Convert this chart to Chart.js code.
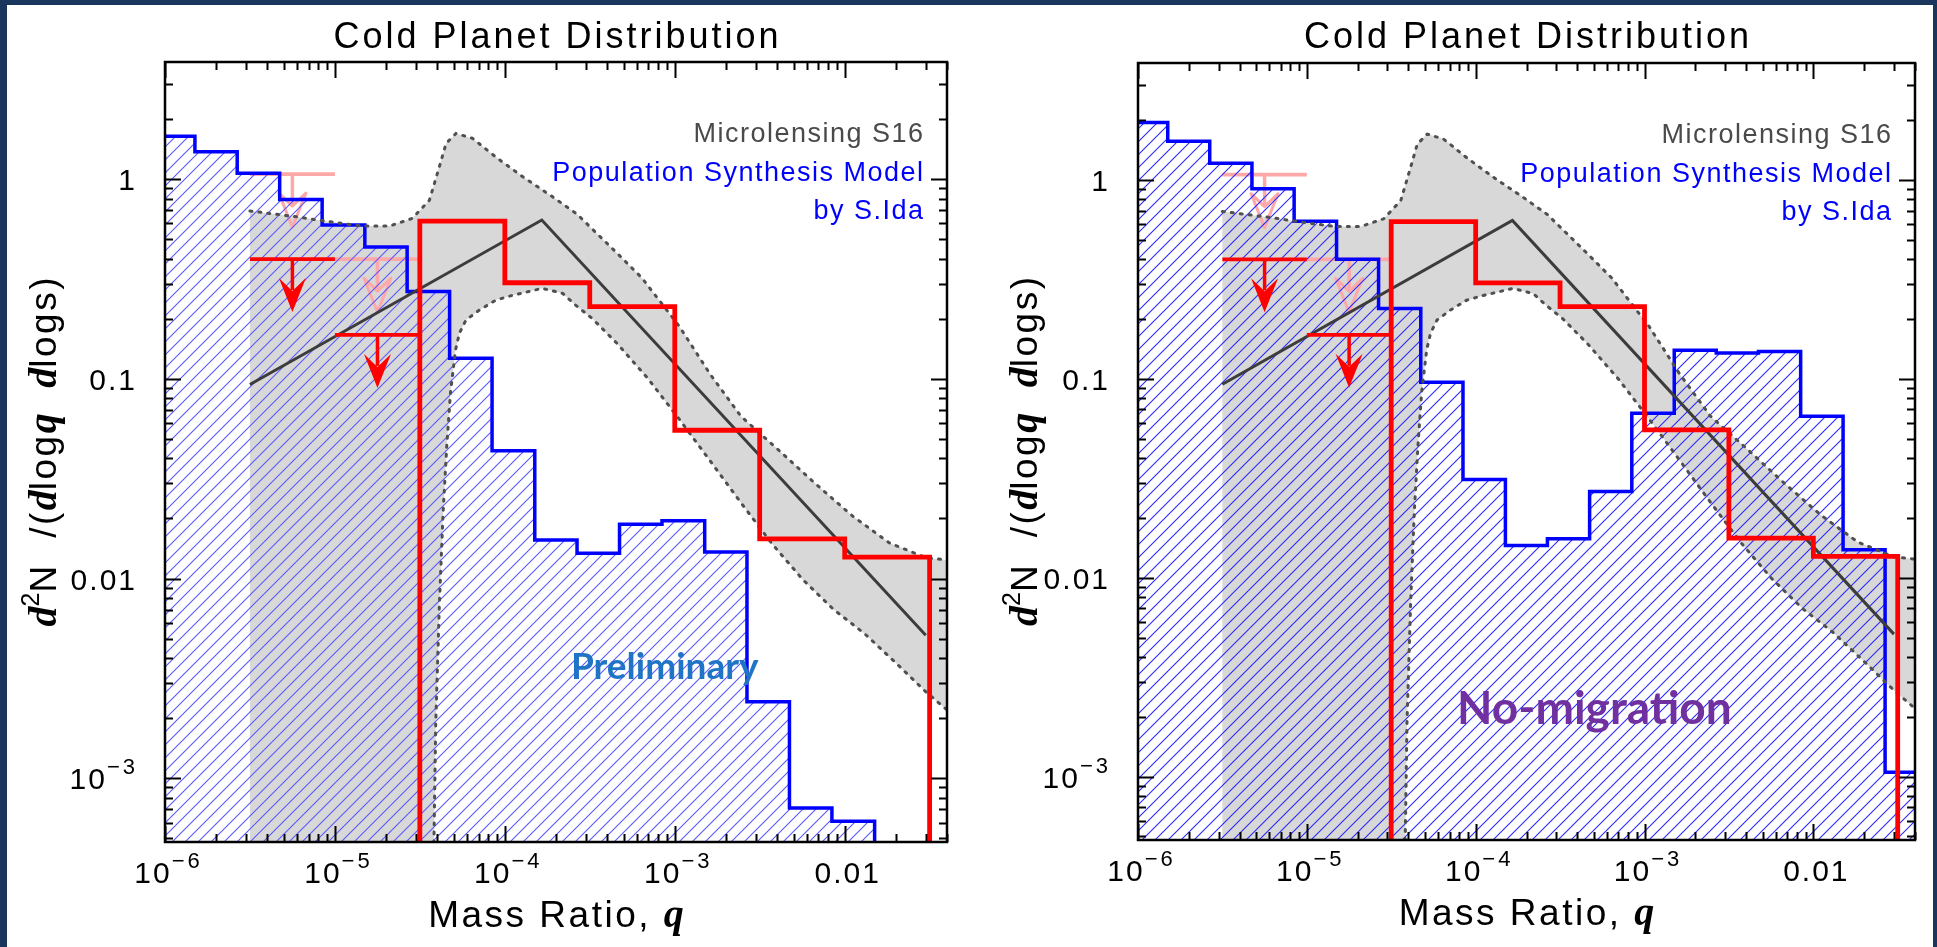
<!DOCTYPE html>
<html>
<head>
<meta charset="utf-8">
<title>Cold Planet Distribution</title>
<script src="https://cdn.jsdelivr.net/npm/chart.js@4.4.1/dist/chart.umd.min.js"></script>
<style>
  html, body { margin: 0; padding: 0; background: #1b365d; }
  #page { position: relative; width: 1937px; height: 947px; overflow: hidden; }
  #sheet { position: absolute; left: 7px; top: 5px; width: 1926px; height: 942px; background: #fff; }
  canvas { position: absolute; top: 0; }
  #left { left: 0; }
  #right { left: 968px; }
</style>
</head>
<body>
<div id="page">
  <div id="sheet"></div>
  <canvas id="left" width="968" height="947"></canvas>
  <canvas id="right" width="969" height="947"></canvas>
</div>
<script>
// axis ranges (mass ratio q, planet frequency)
const qRange = [1e-6, 0.04];
const nRange = [4.8e-4, 3.86];
const belowAxis = 1e-4;

const qTickValues = [1e-6, 1e-5, 1e-4, 1e-3, 0.01];
const qTickText = ['10^−6', '10^−5', '10^−4', '10^−3', '0.01'];
const nTickValues = [1e-3, 0.01, 0.1, 1];
const nTickText = ['10^−3', '0.01', '0.1', '1'];

// population synthesis (S.Ida), 0.25 dex bins: left edges plus last right edge
const synthEdges = [8.4e-7, 1.5e-6, 2.66e-6, 4.73e-6, 8.41e-6, 1.5e-5, 2.66e-5, 4.73e-5, 8.41e-5,
  1.5e-4, 2.66e-4, 4.73e-4, 8.41e-4, 1.5e-3, 2.66e-3, 4.73e-3, 8.41e-3, 1.5e-2, 2.66e-2, 4.73e-2];
const synthPreliminary = [1.64, 1.37, 1.07, 0.79, 0.59, 0.457, 0.274, 0.127, 0.0437, 0.0156,
  0.0134, 0.0187, 0.0195, 0.0136, 0.00242, 7.1e-4, 6.1e-4, null, null];
const synthNoMigration = [1.94, 1.56, 1.21, 0.90, 0.618, 0.398, 0.225, 0.096, 0.0311, 0.0145,
  0.0157, 0.0271, 0.067, 0.139, 0.1345, 0.137, 0.0647, 0.0138, 1.05e-3];

// microlensing S16 histogram, half-decade bins
const s16Edges = [3.16e-5, 1e-4, 3.16e-4, 1e-3, 3.16e-3, 1e-2, 3.16e-2];
const s16Values = [0.616, 0.303, 0.23, 0.0553, 0.0158, 0.0128];

// upper limits for the two lowest bins
const limitBins = [[3.16e-6, 1e-5], [1e-5, 3.16e-5]];
const limitArrowQ = [5.62e-6, 1.78e-5];
const s16Limits = [0.398, 0.166];
const priorLimits = [1.06, 0.398];

// broken power-law fit and its uncertainty band
const fitQ = [3.16e-6, 1.65e-4, 3.0e-2];
const fitN = [0.0937, 0.624, 0.0052];
const bandUpperQ = [3.16e-6, 5.92e-6, 9.33e-6, 1.46e-5, 2.09e-5, 2.85e-5, 3.6e-5, 4.12e-5, 4.51e-5,
  5.16e-5, 6.46e-5, 8.85e-5, 1.27e-4, 1.91e-4, 2.66e-4, 4.59e-4, 6.41e-4, 1.06e-3, 1.61e-3,
  2.45e-3, 4.05e-3, 6.68e-3, 1.11e-2, 1.83e-2, 3.02e-2, 4e-2];
const bandUpper = [0.693, 0.648, 0.612, 0.582, 0.582, 0.636, 0.785, 1.156, 1.51, 1.695, 1.6, 1.29,
  1.03, 0.816, 0.668, 0.425, 0.32, 0.184, 0.106, 0.065, 0.0443, 0.030, 0.0206, 0.0151, 0.0127, 0.0124];
const bandLowerQ = [3.72e-5, 3.92e-5, 4.12e-5, 4.33e-5, 4.55e-5, 4.79e-5, 5.13e-5, 5.4e-5, 5.9e-5,
  7.08e-5, 8.85e-5, 1.11e-4, 1.66e-4, 2.19e-4, 2.61e-4, 3.28e-4, 4.59e-4, 6.98e-4, 1.06e-3,
  1.61e-3, 2.45e-3, 3.72e-3, 5.66e-3, 8.61e-3, 1.31e-2, 1.99e-2, 3.02e-2, 4e-2];
const bandLower = [null, 0.00187, 0.0075, 0.0213, 0.0459, 0.0859, 0.14, 0.169, 0.197, 0.221, 0.248,
  0.262, 0.284, 0.268, 0.234, 0.20, 0.15, 0.10, 0.063, 0.039, 0.024, 0.015, 0.0099, 0.007,
  0.0053, 0.0038, 0.0027, 0.0022];

const SANS = '"Liberation Sans", Arial, Helvetica, sans-serif';
const SERIF = '"Liberation Serif", "DejaVu Serif", serif';
const NOTE = 'Lato, "Open Sans", sans-serif';

function pts(xs, ys) {
  return xs.map((x, i) => ({ x, y: ys[i] === null ? belowAxis : ys[i] }));
}

// histogram as stepped line: value i holds from edge i to edge i+1
function stepPoints(edges, values) {
  const out = values.map((v, i) => ({ x: edges[i], y: v === null ? belowAxis : v }));
  out.push({ x: edges[values.length], y: belowAxis });
  return out;
}

function logTicks(min, max) {
  const out = [];
  for (let e = Math.floor(Math.log10(min)); e <= Math.ceil(Math.log10(max)); e++) {
    for (let m = 1; m < 10; m++) {
      const v = m * Math.pow(10, e);
      if (v >= min * 0.999 && v <= max * 1.001) out.push({ value: v, major: m === 1 });
    }
  }
  return out;
}

function makeHatch(ctx, color, gap) {
  const tile = document.createElement('canvas');
  tile.width = tile.height = gap;
  const g = tile.getContext('2d');
  g.strokeStyle = color;
  g.lineWidth = 1.1;
  g.beginPath();
  g.moveTo(-2, gap + 2); g.lineTo(gap + 2, -2);
  g.moveTo(-2, 2); g.lineTo(2, -2);
  g.moveTo(gap - 2, gap + 2); g.lineTo(gap + 2, gap - 2);
  g.stroke();
  return ctx.createPattern(tile, 'repeat');
}

// draw a row of differently styled text pieces
function drawRuns(ctx, runs, x, y, align) {
  let total = 0;
  runs.forEach(r => {
    ctx.font = r.font;
    ctx.letterSpacing = r.ls || '0px';
    r.w = ctx.measureText(r.text).width;
    total += r.w;
  });
  total -= parseFloat(runs[runs.length - 1].ls || 0);
  let cx = align === 'center' ? x - total / 2 : align === 'right' ? x - total : x;
  runs.forEach(r => {
    ctx.font = r.font;
    ctx.letterSpacing = r.ls || '0px';
    if (r.color) ctx.fillStyle = r.color;
    ctx.fillText(r.text, cx, y + (r.dy || 0));
    cx += r.w;
  });
  ctx.letterSpacing = '0px';
}

function tickRuns(label) {
  const [base, exp] = label.split('^');
  const runs = [{ text: base, font: `30px ${SANS}`, ls: '2px' }];
  if (exp) runs.push({ text: exp, font: `22px ${SANS}`, dy: -15, ls: '3px' });
  return runs;
}

const limitArrows = {
  id: 'limitArrows',
  afterDatasetDraw(chart, args) {
    const ds = chart.data.datasets[args.index];
    if (ds.arrowAt === undefined) return;
    const { ctx, scales: { x, y } } = chart;
    const px = x.getPixelForValue(ds.arrowAt);
    const top = y.getPixelForValue(ds.data[0].y);
    const tip = top + 53;
    ctx.save();
    ctx.strokeStyle = ds.borderColor;
    ctx.fillStyle = ds.borderColor;
    ctx.lineWidth = 3.5;
    ctx.beginPath();
    ctx.moveTo(px, top);
    ctx.lineTo(px, tip - 22);
    ctx.stroke();
    ctx.beginPath();
    ctx.moveTo(px, tip);
    ctx.lineTo(px - 13.5, tip - 34);
    ctx.lineTo(px, tip - 21);
    ctx.lineTo(px + 13.5, tip - 34);
    ctx.closePath();
    if (ds.hollow) { ctx.lineWidth = 3; ctx.lineJoin = 'round'; ctx.stroke(); } else { ctx.fill(); }
    ctx.restore();
  }
};

const frameAndText = {
  id: 'frameAndText',
  afterDraw(chart, args, o) {
    const { ctx, chartArea: a, scales: { x, y } } = chart;
    ctx.save();
    ctx.strokeStyle = '#000';
    ctx.lineWidth = 2;
    ctx.beginPath();
    x.ticks.forEach(t => {
      const px = Math.round(x.getPixelForValue(t.value)) + 0.5;
      const len = t.major ? 16 : 8;
      ctx.moveTo(px, a.bottom); ctx.lineTo(px, a.bottom - len);
      ctx.moveTo(px, a.top); ctx.lineTo(px, a.top + len);
    });
    y.ticks.forEach(t => {
      const py = Math.round(y.getPixelForValue(t.value)) + 0.5;
      const len = t.major ? 16 : 8;
      ctx.moveTo(a.left, py); ctx.lineTo(a.left + len, py);
      ctx.moveTo(a.right, py); ctx.lineTo(a.right - len, py);
    });
    ctx.stroke();
    ctx.lineWidth = 2.5;
    ctx.strokeRect(a.left, a.top, a.right - a.left, a.bottom - a.top);

    ctx.fillStyle = '#000';
    ctx.textBaseline = 'alphabetic';
    ctx.textAlign = 'left';
    qTickValues.forEach((v, i) => {
      drawRuns(ctx, tickRuns(qTickText[i]), x.getPixelForValue(v) + 2, a.bottom + 41, 'center');
    });
    nTickValues.forEach((v, i) => {
      drawRuns(ctx, tickRuns(nTickText[i]), a.left - 30, y.getPixelForValue(v) + 11, 'right');
    });

    const cx = (a.left + a.right) / 2;
    const cy = (a.top + a.bottom) / 2;
    drawRuns(ctx, [{ text: 'Cold Planet Distribution', font: `36px ${SANS}`, ls: '3px' }], cx, 48, 'center');

    const bi = t => ({ text: t, font: `bold italic 40px ${SERIF}` });
    const rg = t => ({ text: t, font: `37px ${SANS}`, ls: '2.5px' });
    drawRuns(ctx, [rg('Mass Ratio, '), bi('q')], cx, a.bottom + 85, 'center');

    ctx.save();
    ctx.translate(a.left - o.yTitleGap, cy);
    ctx.rotate(-Math.PI / 2);
    drawRuns(ctx, [bi('d'), { text: '2', font: `25px ${SANS}`, dy: -17 }, rg('N  /('), bi('d'),
      rg('log'), bi('q'), rg('  '), bi('d'), rg('logs)')], 0, 0, 'center');
    ctx.restore();

    const lx = a.right - 24;
    const lf = `27px ${SANS}`;
    drawRuns(ctx, [{ text: 'Microlensing S16', font: lf, ls: '1.5px', color: '#4a4a4a' }], lx, a.top + 80, 'right');
    drawRuns(ctx, [{ text: 'Population Synthesis Model', font: lf, ls: '1.5px', color: '#0000ff' }], lx, a.top + 119, 'right');
    drawRuns(ctx, [{ text: 'by S.Ida', font: lf, ls: '1.5px', color: '#0000ff' }], lx, a.top + 157, 'right');

    drawRuns(ctx, [{ text: o.note, font: o.noteFont, color: o.noteColor }],
      x.getPixelForValue(o.noteAt[0]), y.getPixelForValue(o.noteAt[1]), 'left');
    ctx.restore();
  }
};

function line(data, color, width, order, extra) {
  return Object.assign({
    data, showLine: true, borderColor: color, borderWidth: width, pointRadius: 0,
    pointHitRadius: 0, tension: 0, fill: false, order
  }, extra || {});
}

function panel(id, synth, opts) {
  const ctx = document.getElementById(id).getContext('2d');
  const datasets = [
    line([{ x: s16Edges[0], y: belowAxis }].concat(stepPoints(s16Edges, s16Values)), '#ff0000', 4.8, 1,
      { stepped: true }),
    ...s16Limits.map((v, i) => line([{ x: limitBins[i][0], y: v }, { x: limitBins[i][1], y: v }],
      '#ff0000', 3.8, 2, { arrowAt: limitArrowQ[i] })),
    line(pts(fitQ, fitN), '#3c3c3c', 3, 3),
    line(pts(bandUpperQ, bandUpper), '#505050', 3, 4, { borderDash: [2, 7], borderCapStyle: 'round' }),
    line(pts(bandLowerQ, bandLower), '#505050', 3, 4, { borderDash: [2, 7], borderCapStyle: 'round' }),
    line(stepPoints(synthEdges, synth), '#0000ff', 3.5, 5,
      { stepped: true, fill: 'start', backgroundColor: makeHatch(ctx, opts.hatch, 13) }),
    ...priorLimits.map((v, i) => line([{ x: limitBins[i][0], y: v }, { x: limitBins[i][1], y: v }],
      '#ffa8a8', 3.8, 6, { arrowAt: limitArrowQ[i], hollow: true })),
    line([{ x: bandUpperQ[0], y: belowAxis }]
      .concat(pts(bandUpperQ, bandUpper))
      .concat(pts(bandLowerQ, bandLower).reverse()),
      'rgba(0,0,0,0)', 0, 7, { fill: 'shape', backgroundColor: '#d8d8d8' })
  ];
  return new Chart(ctx, {
    type: 'scatter',
    data: { datasets },
    options: {
      responsive: false,
      animation: false,
      events: [],
      layout: { padding: opts.pad },
      plugins: {
        legend: { display: false },
        tooltip: { enabled: false },
        frameAndText: opts
      },
      scales: {
        x: {
          type: 'logarithmic', min: qRange[0], max: qRange[1], display: false,
          ticks: { autoSkip: false },
          afterBuildTicks: s => { s.ticks = logTicks(qRange[0], qRange[1]); }
        },
        y: {
          type: 'logarithmic', min: nRange[0], max: nRange[1], display: false,
          ticks: { autoSkip: false },
          afterBuildTicks: s => { s.ticks = logTicks(nRange[0], nRange[1]); }
        }
      }
    },
    plugins: [limitArrows, frameAndText]
  });
}

panel('left', synthPreliminary, {
  pad: { left: 165, right: 21, top: 62, bottom: 105 },
  hatch: '#5a5aff',
  yTitleGap: 109,
  note: 'Preliminary',
  noteFont: `bold 37px ${NOTE}`,
  noteColor: '#1f74c6',
  noteAt: [2.45e-4, 0.00313]
});

panel('right', synthNoMigration, {
  pad: { left: 170, right: 22, top: 63, bottom: 107 },
  hatch: '#2a2aff',
  yTitleGap: 101,
  note: 'No-migration',
  noteFont: `bold 46px ${NOTE}`,
  noteColor: '#7030a0',
  noteAt: [7.76e-5, 0.00184]
});
</script>
</body>
</html>
